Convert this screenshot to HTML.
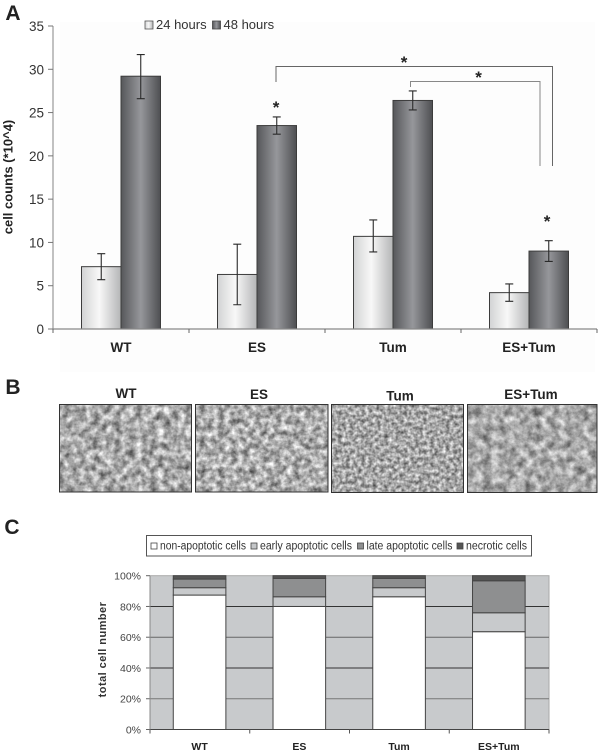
<!DOCTYPE html>
<html lang="en">
<head>
<meta charset="utf-8">
<title>Cell counts, morphology and apoptosis</title>
<style>
html,body{margin:0;padding:0;background:#fff;width:600px;height:753px;overflow:hidden}
svg{display:block;font-family:"Liberation Sans",sans-serif}
</style>
</head>
<body>
<svg id="fig" xmlns="http://www.w3.org/2000/svg" width="600" height="753" viewBox="0 0 600 753">
  <defs>
    <linearGradient id="g24" x1="0" x2="1" y1="0" y2="0">
      <stop offset="0" stop-color="#d2d3d4"/><stop offset=".45" stop-color="#f8f8f8"/><stop offset="1" stop-color="#b4b5b6"/>
    </linearGradient>
    <linearGradient id="g48" x1="0" x2="1" y1="0" y2="0">
      <stop offset="0" stop-color="#56575a"/><stop offset=".5" stop-color="#96979b"/><stop offset="1" stop-color="#4e4f52"/>
    </linearGradient>
    <filter id="photo1" x="0" y="0" width="100%" height="100%" color-interpolation-filters="sRGB">
      <feTurbulence type="fractalNoise" baseFrequency="0.14" numOctaves="3" seed="4"/>
      <feColorMatrix type="matrix" values="0 0 0 0.95 0.19  0 0 0 0.95 0.19  0 0 0 0.95 0.19  0 0 0 0 1"/>
    </filter>
    <filter id="photo2" x="0" y="0" width="100%" height="100%" color-interpolation-filters="sRGB">
      <feTurbulence type="fractalNoise" baseFrequency="0.16" numOctaves="3" seed="11"/>
      <feColorMatrix type="matrix" values="0 0 0 0.95 0.2  0 0 0 0.95 0.2  0 0 0 0.95 0.2  0 0 0 0 1"/>
    </filter>
    <filter id="photo3" x="0" y="0" width="100%" height="100%" color-interpolation-filters="sRGB">
      <feTurbulence type="fractalNoise" baseFrequency="0.26" numOctaves="2" seed="7"/>
      <feColorMatrix type="matrix" values="0 0 0 0.9 0.2  0 0 0 0.9 0.2  0 0 0 0.9 0.2  0 0 0 0 1"/>
    </filter>
    <filter id="photo4" x="0" y="0" width="100%" height="100%" color-interpolation-filters="sRGB">
      <feTurbulence type="fractalNoise" baseFrequency="0.12" numOctaves="4" seed="21"/>
      <feColorMatrix type="matrix" values="0 0 0 0.8 0.26  0 0 0 0.8 0.26  0 0 0 0.8 0.26  0 0 0 0 1"/>
    </filter>
  </defs>
  <rect x="60" y="22" width="535" height="350" fill="#fdfdfd"/>
  <g id="panelA"></g>
  <g id="panelB"></g>
  <g id="panelC"></g>
</svg>
<script>
var categories = ['WT', 'ES', 'Tum', 'ES+Tum'];
var values24 = [7.2, 6.3, 10.7, 4.2];
var values48 = [29.2, 23.5, 26.4, 9.0];
var err24Low = [5.7, 2.8, 8.9, 3.2];
var err24High = [8.7, 9.8, 12.6, 5.2];
var err48Low = [26.6, 22.5, 25.3, 7.8];
var err48High = [31.7, 24.5, 27.5, 10.2];
var countTicks = [0, 5, 10, 15, 20, 25, 30, 35];

var nonApoptotic = [87.4, 80.0, 86.3, 63.6];
var earlyApoptotic = [4.8, 6.3, 5.9, 12.3];
var lateApoptotic = [5.6, 12.0, 6.1, 20.8];
var necrotic = [2.2, 1.7, 1.7, 3.3];
var percentTicks = [0, 20, 40, 60, 80, 100];
var gridShades = ['#444', '#777', '#333', '#666', '#333', '#999'];

var NS = 'http://www.w3.org/2000/svg';
function make(parent, tag, attrs, txt) {
  var n = document.createElementNS(NS, tag);
  for (var k in attrs) n.setAttribute(k, attrs[k]);
  if (txt !== undefined) n.textContent = txt;
  parent.appendChild(n);
  return n;
}
var el;

/* ---------- Panel A ---------- */
var A = document.getElementById('panelA');
var aX0 = 53, aStep = 136, aY0 = 329, aYTop = 26, aMax = 35, aBar = 39.5;
function ay(v) { return aY0 - (v / aMax) * (aY0 - aYTop); }
function ac(i) { return aX0 + aStep * (i + 0.5); }

el = make(A, 'text', {x: 13, y: 20, 'font-size': 21, 'font-weight': 'bold', fill: '#222', 'text-anchor': 'middle'}, 'A');



el = make(A, 'line', {x1: aX0, x2: aX0, y1: aY0, y2: aYTop, stroke: '#999', 'stroke-width': 1.2});



countTicks.forEach(function (t) {
  var tick = make(A, 'line', {x1: aX0 - 5, x2: aX0, y1: ay(t), y2: ay(t), stroke: '#777', 'stroke-width': 1});
  
  
  var lab = make(A, 'text', {x: 44, y: ay(t) + 5, 'font-size': 13.5, fill: '#333', 'text-anchor': 'end'}, String(t));
  
  
});

el = make(A, 'text', {transform: 'translate(12.5,177) rotate(-90)', 'font-size': 13, 'font-weight': 'bold', fill: '#222', 'text-anchor': 'middle'}, 'cell counts (*10^4)');



categories.forEach(function (c, i) {
  var cx = ac(i);
  var b24 = make(A, 'rect', {x: cx - aBar, y: ay(values24[i]), width: aBar, height: aY0 - ay(values24[i]), fill: 'url(#g24)', stroke: '#3c3c3c', 'stroke-width': 1});
  
  
  var b48 = make(A, 'rect', {x: cx, y: ay(values48[i]), width: aBar, height: aY0 - ay(values48[i]), fill: 'url(#g48)', stroke: '#3c3c3c', 'stroke-width': 1});
  
  
  [[cx - aBar / 2, err24Low[i], err24High[i]], [cx + aBar / 2, err48Low[i], err48High[i]]].forEach(function (e) {
    var d = 'M' + (e[0] - 4) + ' ' + ay(e[2]) + 'H' + (e[0] + 4) + 'M' + e[0] + ' ' + ay(e[2]) + 'V' + ay(e[1]) + 'M' + (e[0] - 4) + ' ' + ay(e[1]) + 'H' + (e[0] + 4);
    var eb = make(A, 'path', {d: d, fill: 'none', stroke: '#2a2a2a', 'stroke-width': 1.1});
    
    
  });
  var cl = make(A, 'text', {x: cx, y: 352, 'font-size': 13.5, 'font-weight': 'bold', fill: '#222', 'text-anchor': 'middle'}, c);
  
  
});

el = make(A, 'line', {x1: aX0, x2: aX0 + aStep * 4, y1: aY0, y2: aY0, stroke: '#888', 'stroke-width': 1.2});


for (var ti = 0; ti <= categories.length; ti++) {
  var xt = make(A, 'line', {x1: aX0 + aStep * ti, x2: aX0 + aStep * ti, y1: aY0, y2: aY0 + 4, stroke: '#666', 'stroke-width': 1});
  
  
}

el = make(A, 'rect', {x: 145, y: 21, width: 8, height: 8, fill: 'url(#g24)', stroke: '#555', 'stroke-width': 0.8});


el = make(A, 'text', {x: 156, y: 29, 'font-size': 13, fill: '#333'}, '24 hours');


el = make(A, 'rect', {x: 212.5, y: 21, width: 8, height: 8, fill: 'url(#g48)', stroke: '#444', 'stroke-width': 0.8});


el = make(A, 'text', {x: 223.5, y: 29, 'font-size': 13, fill: '#333'}, '48 hours');



el = make(A, 'path', {d: 'M276 82V66.5H552.5V166', fill: 'none', stroke: '#666', 'stroke-width': 1});


el = make(A, 'path', {d: 'M410.5 87V81.5H540V166', fill: 'none', stroke: '#888', 'stroke-width': 1});


[[404, 68], [478.5, 83], [276, 113], [547, 227]].forEach(function (p) {
  var s = make(A, 'text', {x: p[0], y: p[1], 'font-size': 17, 'font-weight': 'bold', fill: '#222', 'text-anchor': 'middle'}, '*');
  
  
});

/* ---------- Panel B ---------- */
var B = document.getElementById('panelB');
el = make(B, 'text', {x: 13, y: 394, 'font-size': 21, 'font-weight': 'bold', fill: '#222', 'text-anchor': 'middle'}, 'B');


[
  ['WT', 126, 398, 59.5, 404.5, 132, 87.5, 'photo1'],
  ['ES', 259, 399, 195.5, 404.5, 132.5, 87.5, 'photo2'],
  ['Tum', 400, 400.5, 331.5, 404.5, 132, 88, 'photo3'],
  ['ES+Tum', 531, 399, 467.5, 404.5, 129.5, 88, 'photo4']
].forEach(function (p) {
  var l = make(B, 'text', {x: p[1], y: p[2], 'font-size': 13.5, 'font-weight': 'bold', fill: '#222', 'text-anchor': 'middle'}, p[0]);
  
  
  var img = make(B, 'rect', {x: p[3], y: p[4], width: p[5], height: p[6], fill: '#aaa', filter: 'url(#' + p[7] + ')'});
  
  
  var fr = make(B, 'rect', {x: p[3], y: p[4], width: p[5], height: p[6], fill: 'none', stroke: '#333', 'stroke-width': 1});
  
  
});

/* ---------- Panel C ---------- */
var C = document.getElementById('panelC');
var cX0 = 150, cX1 = 549, cY0 = 729.5, cYTop = 575.7, cBar = 52.6;
var cStep = (cX1 - cX0) / categories.length;
function cy(v) { return cY0 - (v / 100) * (cY0 - cYTop); }
function cc(i) { return cX0 + cStep * (i + 0.5) - 0.3; }

el = make(C, 'text', {x: 12, y: 534, 'font-size': 21, 'font-weight': 'bold', fill: '#222', 'text-anchor': 'middle'}, 'C');



el = make(C, 'rect', {x: 146.5, y: 535.5, width: 385, height: 20.5, fill: '#fff', stroke: '#555', 'stroke-width': 1});


[
  ['non-apoptotic cells', 151, '#fff', 86],
  ['early apoptotic cells', 251, '#c4c6c8', 92],
  ['late apoptotic cells', 357.5, '#8e8f90', 86],
  ['necrotic cells', 457, '#555', 61]
].forEach(function (g) {
  var sw = make(C, 'rect', {x: g[1], y: 543, width: 6, height: 6, fill: g[2], stroke: '#444', 'stroke-width': 0.8});
  
  
  var tx = make(C, 'text', {x: g[1] + 9, y: 549.5, 'font-size': 11.5, fill: '#333', textLength: g[3], lengthAdjust: 'spacingAndGlyphs'}, g[0]);
  
  
});

el = make(C, 'rect', {x: cX0, y: cYTop, width: cX1 - cX0, height: cY0 - cYTop, fill: '#c8cacc', stroke: '#aaa', 'stroke-width': 1});



percentTicks.forEach(function (t, i) {
  var y = cy(t);
  if (t > 0 && t < 100) {
    var g = make(C, 'line', {x1: cX0, x2: cX1, y1: y, y2: y, stroke: gridShades[i], 'stroke-width': 1});
    
    
  }
  var tk = make(C, 'line', {x1: cX0 - 4, x2: cX0, y1: y, y2: y, stroke: '#666', 'stroke-width': 1});
  
  
  var lb = make(C, 'text', {x: 141, y: y + 3.8, 'font-size': 10.5, fill: '#444', 'text-anchor': 'end'}, t + '%');
  
  
});

el = make(C, 'text', {transform: 'translate(106,649.5) rotate(-90)', 'font-size': 11, 'font-weight': 'bold', fill: '#333', 'text-anchor': 'middle', 'letter-spacing': '0.45'}, 'total cell number');



categories.forEach(function (c, i) {
  var x = cc(i) - cBar / 2, base = 0;
  [[nonApoptotic, '#fff', 'segment-non-apoptotic'], [earlyApoptotic, '#c8cacc', 'segment-early-apoptotic'], [lateApoptotic, '#8e8f90', 'segment-late-apoptotic'], [necrotic, '#555', 'segment-necrotic']].forEach(function (s) {
    var v = s[0][i];
    var r = make(C, 'rect', {x: x, y: cy(base + v), width: cBar, height: cy(base) - cy(base + v), fill: s[1], stroke: '#444', 'stroke-width': 1});
    
    
    base += v;
  });
  var cl = make(C, 'text', {x: cc(i), y: 750, 'font-size': 10.5, 'font-weight': 'bold', fill: '#222', 'text-anchor': 'middle'}, c);
  
  
});

el = make(C, 'line', {x1: cX0, x2: cX1, y1: cY0, y2: cY0, stroke: '#444', 'stroke-width': 1});


el = make(C, 'line', {x1: cX0, x2: cX0, y1: cYTop, y2: cY0, stroke: '#888', 'stroke-width': 1});


for (var tj = 0; tj <= categories.length; tj++) {
  var ct = make(C, 'line', {x1: cX0 + cStep * tj, x2: cX0 + cStep * tj, y1: cY0, y2: cY0 + 4, stroke: '#555', 'stroke-width': 1});
  
  
}
</script>
</body>
</html>
